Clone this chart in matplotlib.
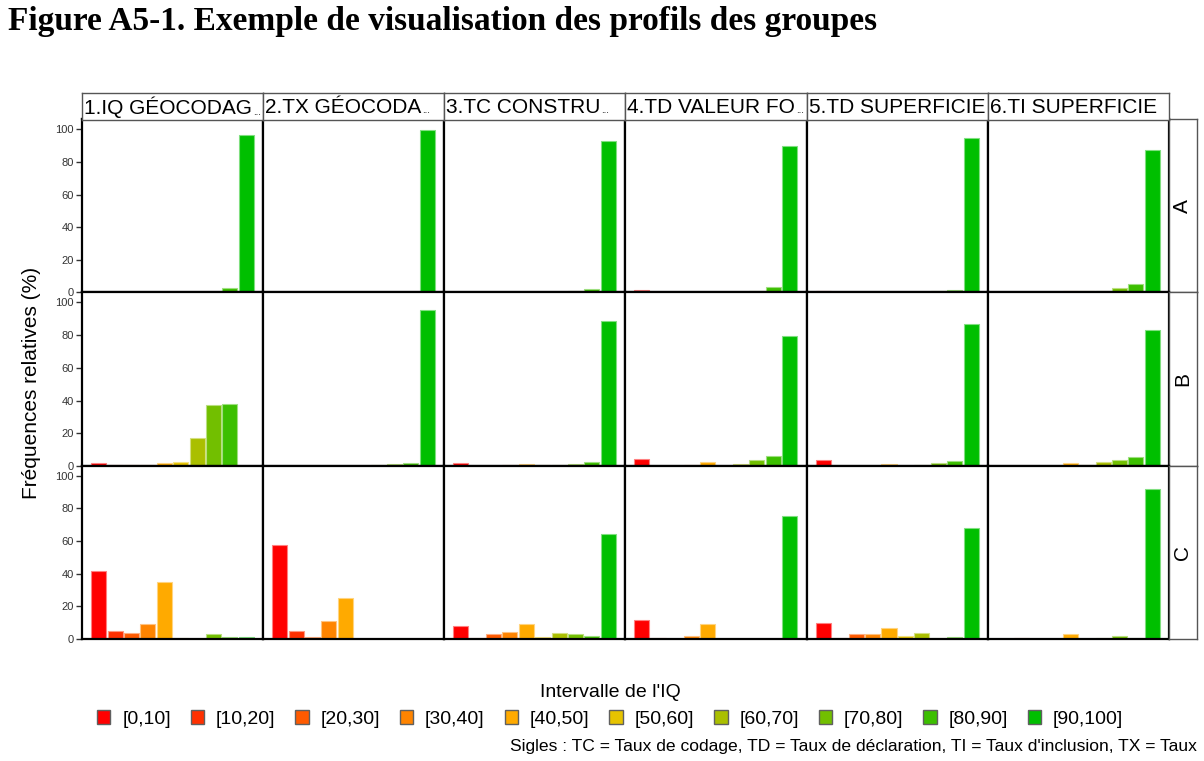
import matplotlib
matplotlib.use("Agg")
import matplotlib.pyplot as plt
from matplotlib.patches import Patch
from matplotlib.colors import to_rgb

plt.rcParams['font.family'] = ['Liberation Sans', 'DejaVu Sans']

# ---------------- data ----------------
intervals = ['[0,10]', '[10,20]', '[20,30]', '[30,40]', '[40,50]',
             '[50,60]', '[60,70]', '[70,80]', '[80,90]', '[90,100]']
colors = ['#FF0000', '#FF3000', '#FF5A00', '#FF8400', '#FFAA00',
          '#E6C300', '#AABF00', '#72BF00', '#3CBF00', '#00BF00']
indicators = ['1.IQ GÉOCODAG', '2.TX GÉOCODA', '3.TC CONSTRU',
              '4.TD VALEUR FO', '5.TD SUPERFICIE', '6.TI SUPERFICIE']
truncated = [True, True, True, True, False, False]
groups = ['A', 'B', 'C']

values_A = [
    [0, 0, 0, 0, 0, 0, 0, 0, 3.0, 96.7],
    [0, 0, 0, 0, 0, 0, 0, 0, 0.1, 99.7],
    [0.5, 0.1, 0.1, 0.3, 0.4, 0.5, 0.6, 1.2, 2.2, 92.8],
    [1.8, 0.6, 0.3, 0.2, 0.2, 0.1, 0.1, 1.0, 3.1, 89.8],
    [0.8, 0.1, 0.1, 0.2, 0.2, 0.2, 0.3, 0.8, 1.8, 94.7],
    [0.2, 0.3, 0.4, 0.6, 0.8, 0.8, 1.2, 2.5, 5.1, 87.5],
]
values_B = [
    [1.8, 0.5, 0.5, 0.5, 1.6, 2.4, 17.3, 37.1, 38.1, 0.0],
    [0, 0, 0, 0, 0, 0.3, 0.9, 1.3, 2.1, 95.1],
    [1.6, 0.3, 0.3, 0.8, 1.4, 0.8, 0.9, 1.5, 2.6, 88.8],
    [4.5, 0.3, 0.3, 0.8, 2.3, 0.3, 1.5, 3.7, 6.1, 79.2],
    [3.9, 0.3, 0.3, 0.3, 1.2, 0.3, 0.8, 1.8, 3.3, 87.0],
    [0, 0.2, 0.3, 0.3, 1.8, 0.8, 2.4, 3.7, 5.8, 83.3],
]
values_C = [
    [41.8, 4.7, 3.5, 9.0, 35.1, 0.8, 0, 3.1, 1.4, 1.0],
    [57.6, 4.9, 1.4, 11.0, 25.1, 0.3, 0, 0, 0, 0],
    [8.0, 0.8, 3.3, 4.1, 9.2, 1.2, 3.7, 3.3, 1.6, 64.1],
    [11.4, 0.8, 0.1, 1.6, 9.2, 0.1, 0.3, 0.3, 0.3, 75.3],
    [9.6, 0.8, 3.3, 2.9, 6.5, 1.6, 3.9, 0.6, 1.4, 68.0],
    [0.1, 0.4, 0, 0, 3.3, 0, 0.5, 1.8, 0.8, 92.2],
]
yticks = [0, 20, 40, 60, 80, 100]

title = "Figure A5-1. Exemple de visualisation des profils des groupes"
ylabel = "Fréquences relatives (%)"
legend_title = "Intervalle de l'IQ"
footnote = ("Sigles : TC = Taux de codage, TD = Taux de déclaration, "
            "TI = Taux d'inclusion, TX = Taux")

# ---------------- layout ----------------
W, H = 1204, 761
fig = plt.figure(figsize=(W / 100, H / 100), dpi=100)


def rect(x0, y0, x1, y1):
    return [x0 / W, 1 - y1 / H, (x1 - x0) / W, (y1 - y0) / H]


xs = [82, 263, 444, 625, 806.5, 988, 1169]
ys = [119.5, 292.5, 466, 639]
strip_top = 93.3
rstrip_right = 1196.5


def lighten(c, f=0.5):
    r, g, b = to_rgb(c)
    return (r + (1 - r) * f, g + (1 - g) * f, b + (1 - b) * f)


edge_colors = [lighten(c) for c in colors]
rows = [values_A, values_B, values_C]
xpos = list(range(len(intervals)))

for ri, row_vals in enumerate(rows):
    for ci, vals in enumerate(row_vals):
        ax = fig.add_axes(rect(xs[ci], ys[ri], xs[ci + 1], ys[ri + 1]))
        ax.bar(xpos, vals, width=0.92, color=colors,
               edgecolor=edge_colors, linewidth=0.8)
        ax.set_xlim(-1.03, len(intervals) - 1 + 1.03)
        ax.set_ylim(0, 106)
        ax.set_xticks([])
        if ci == 0:
            ax.set_yticks(yticks)
            ax.tick_params(axis='y', length=4, width=1, colors='#333333',
                           labelsize=8, pad=2)
        else:
            ax.set_yticks([])
        for s in ax.spines.values():
            s.set_color('black')
            s.set_linewidth(1.6)

    # right strip for group
    sax = fig.add_axes(rect(xs[-1], ys[ri], rstrip_right, ys[ri + 1]))
    sax.set_xticks([]); sax.set_yticks([])
    for s in sax.spines.values():
        s.set_color('#555555'); s.set_linewidth(1.0)
    sax.text(0.5, 0.5, groups[ri], rotation=90, ha='center', va='center',
             fontsize=15, transform=sax.transAxes)

# top strips
for ci, name in enumerate(indicators):
    sax = fig.add_axes(rect(xs[ci], strip_top, xs[ci + 1], ys[0]))
    sax.set_xticks([]); sax.set_yticks([])
    for s in sax.spines.values():
        s.set_color('#555555'); s.set_linewidth(1.0)
    t = sax.text(0.012, 0.47, name, ha='left', va='center', fontsize=15,
                 transform=sax.transAxes)
    if truncated[ci]:
        sax.annotate('...', xy=(1, 0), xycoords=t, xytext=(0.5, 1),
                     textcoords='offset points', ha='left', va='bottom',
                     fontsize=7)

# title
fig.text(8 / W, 1 - 30 / H, title, ha='left', va='baseline',
         fontsize=24, fontweight='bold', family='Liberation Serif')

# y label
fig.text(32 / W, 1 - 383 / H, ylabel, rotation=90, ha='center',
         va='center', fontsize=15)

# legend
handles = [Patch(facecolor=c, edgecolor='#606060', linewidth=1.0)
           for c in colors]
leg = fig.legend(handles, intervals, title=legend_title, loc='upper center',
                 bbox_to_anchor=(610 / W, 1 - 674 / H), ncol=10,
                 frameon=False, fontsize=14, title_fontsize=14,
                 handlelength=0.7, handleheight=0.7, handletextpad=0.6,
                 columnspacing=1.02, borderpad=0.0)

# footnote
fig.text(1197 / W, 1 - 746 / H, footnote, ha='right', va='center',
         fontsize=12.6)

fig.savefig('out.png', dpi=100)
